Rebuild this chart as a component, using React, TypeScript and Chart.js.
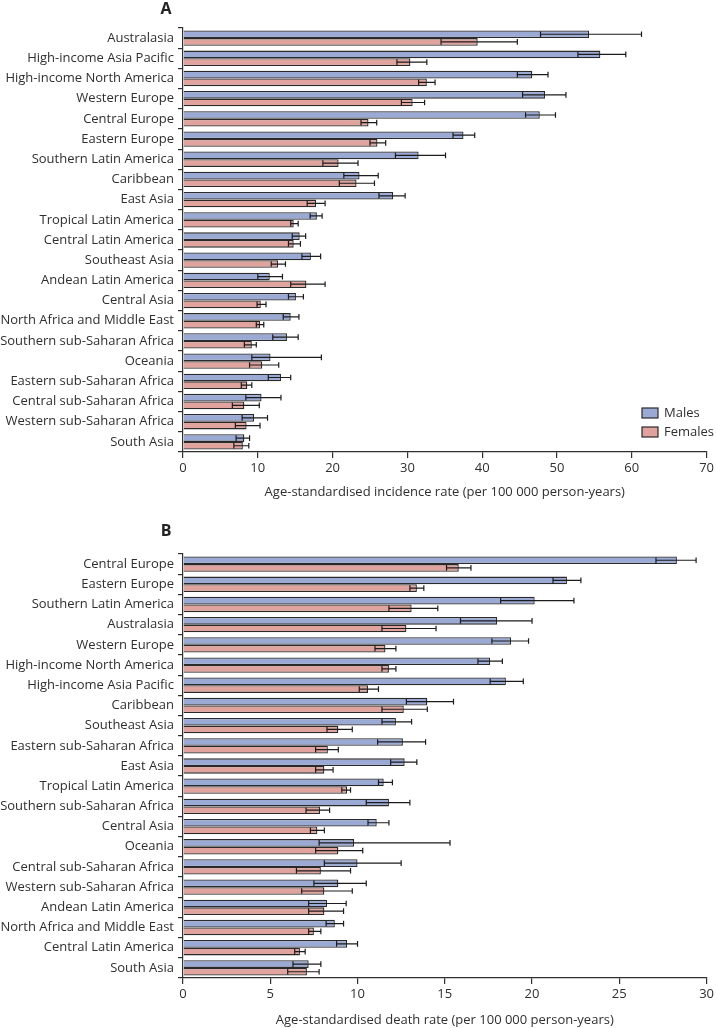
import React, { useEffect, useRef } from "react";
import { Chart, registerables } from "chart.js";
Chart.register(...registerables);

const regionsA = ["Australasia", "High-income Asia Pacific", "High-income North America", "Western Europe", "Central Europe", "Eastern Europe", "Southern Latin America", "Caribbean", "East Asia", "Tropical Latin America", "Central Latin America", "Southeast Asia", "Andean Latin America", "Central Asia", "North Africa and Middle East", "Southern sub-Saharan Africa", "Oceania", "Eastern sub-Saharan Africa", "Central sub-Saharan Africa", "Western sub-Saharan Africa", "South Asia"];
const malesA = [54.3, 55.8, 46.7, 48.4, 47.7, 37.5, 31.5, 23.6, 28.1, 17.9, 15.6, 17.1, 11.6, 15.1, 14.4, 13.9, 11.7, 13.1, 10.5, 9.5, 8.2];
const malesALow = [47.8, 52.8, 44.7, 45.4, 45.8, 36.1, 28.4, 21.5, 26.2, 17.0, 14.6, 15.9, 10.0, 14.1, 13.4, 12.0, 9.2, 11.4, 8.4, 7.9, 7.1];
const malesAHigh = [61.3, 59.2, 48.8, 51.2, 49.8, 39.0, 35.1, 26.1, 29.7, 18.6, 16.4, 18.4, 13.3, 16.1, 15.5, 15.4, 18.5, 14.4, 13.1, 11.3, 8.9];
const femalesA = [39.4, 30.4, 32.6, 30.7, 24.8, 26.0, 20.8, 23.2, 17.8, 14.8, 14.8, 12.7, 16.5, 10.4, 10.3, 9.2, 10.6, 8.6, 8.2, 8.5, 8.0];
const femalesALow = [34.5, 28.6, 31.5, 29.2, 23.8, 25.0, 18.7, 20.9, 16.6, 14.4, 14.1, 11.8, 14.4, 9.9, 9.8, 8.2, 8.9, 7.8, 6.6, 7.0, 6.8];
const femalesAHigh = [44.7, 32.6, 33.7, 32.3, 25.9, 27.1, 23.4, 25.6, 19.0, 15.4, 15.7, 13.7, 19.0, 11.1, 10.8, 9.8, 12.8, 9.2, 10.2, 10.3, 8.8];

const regionsB = ["Central Europe", "Eastern Europe", "Southern Latin America", "Australasia", "Western Europe", "High-income North America", "High-income Asia Pacific", "Caribbean", "Southeast Asia", "Eastern sub-Saharan Africa", "East Asia", "Tropical Latin America", "Southern sub-Saharan Africa", "Central Asia", "Oceania", "Central sub-Saharan Africa", "Western sub-Saharan Africa", "Andean Latin America", "North Africa and Middle East", "Central Latin America", "South Asia"];
const malesB = [28.3, 22.0, 20.15, 18.0, 18.8, 17.6, 18.5, 14.0, 12.2, 12.6, 12.7, 11.5, 11.8, 11.1, 9.8, 10.0, 8.9, 8.25, 8.7, 9.4, 7.2];
const malesBLow = [27.1, 21.2, 18.2, 15.9, 17.7, 16.9, 17.6, 12.8, 11.4, 11.15, 11.9, 11.2, 10.5, 10.6, 7.8, 8.1, 7.5, 7.2, 8.2, 8.8, 6.3];
const malesBHigh = [29.4, 22.8, 22.4, 20.0, 19.8, 18.3, 19.5, 15.5, 13.1, 13.9, 13.4, 12.0, 13.0, 11.8, 15.3, 12.5, 10.5, 9.35, 9.2, 10.0, 7.9];
const femalesB = [15.8, 13.4, 13.1, 12.8, 11.6, 11.8, 10.6, 12.65, 8.9, 8.3, 8.1, 9.4, 7.85, 7.7, 8.9, 7.9, 8.1, 8.1, 7.5, 6.7, 7.1];
const femalesBLow = [15.1, 13.0, 11.8, 11.4, 11.0, 11.4, 10.1, 11.4, 8.25, 7.6, 7.6, 9.1, 7.05, 7.3, 7.6, 6.5, 6.8, 7.2, 7.2, 6.4, 6.0];
const femalesBHigh = [16.5, 13.8, 14.6, 14.5, 12.2, 12.2, 11.2, 14.0, 9.7, 8.9, 8.6, 9.6, 8.4, 8.1, 10.3, 9.6, 9.7, 9.2, 7.9, 7.0, 7.8];

const FONT = "'Open Sans', 'Noto Sans', sans-serif";
const MALE_COLOR = "#9ba9d5";
const FEMALE_COLOR = "#e0a39e";
const EDGE = "#2a2a2a";
const TEXT = "#2f2f2f";

const errorBarPlugin = {
  id: "errorBars",
  afterDatasetsDraw(chart: any) {
    const ctx = chart.ctx;
    const xs = chart.scales.x;
    chart.data.datasets.forEach((ds: any, di: number) => {
      const meta = chart.getDatasetMeta(di);
      meta.data.forEach((el: any, i: number) => {
        const x1 = xs.getPixelForValue(ds.errLow[i]);
        const x2 = xs.getPixelForValue(ds.errHigh[i]);
        const y = el.y;
        const hh = el.height / 2 - 1;
        ctx.save();
        ctx.strokeStyle = "#1c1c1c";
        ctx.lineWidth = 1.2;
        ctx.beginPath();
        ctx.moveTo(x1, y);
        ctx.lineTo(x2, y);
        ctx.moveTo(x1, y - hh);
        ctx.lineTo(x1, y + hh);
        ctx.moveTo(x2, y - hh);
        ctx.lineTo(x2, y + hh);
        ctx.stroke();
        ctx.restore();
      });
    });
  },
};

const decorPlugin = {
  id: "decor",
  afterDraw(chart: any, _args: any, opts: any) {
    const ctx = chart.ctx;
    ctx.save();
    ctx.fillStyle = "#222";
    ctx.font = `bold 16px ${FONT}`;
    ctx.textAlign = "center";
    ctx.textBaseline = "middle";
    ctx.fillText(opts.panel, opts.panelX, opts.panelY);
    if (opts.legend) {
      const lg = opts.legend;
      chart.data.datasets.forEach((ds: any, i: number) => {
        const y = lg.y + i * lg.gap;
        ctx.fillStyle = ds.backgroundColor;
        ctx.fillRect(lg.x, y - 5, 16, 10);
        ctx.strokeStyle = EDGE;
        ctx.lineWidth = 1.2;
        ctx.strokeRect(lg.x, y - 5, 16, 10);
        ctx.fillStyle = TEXT;
        ctx.font = `13px ${FONT}`;
        ctx.textAlign = "left";
        ctx.fillText(ds.label, lg.x + 22, y);
      });
    }
    ctx.restore();
  },
};

function makeConfig(p: any) {
  return {
    type: "bar",
    data: {
      labels: p.labels,
      datasets: [
        { label: "Males", data: p.males, errLow: p.malesLow, errHigh: p.malesHigh, backgroundColor: MALE_COLOR, borderColor: EDGE, borderWidth: 1.3, categoryPercentage: 0.76, barPercentage: 1 },
        { label: "Females", data: p.females, errLow: p.femalesLow, errHigh: p.femalesHigh, backgroundColor: FEMALE_COLOR, borderColor: EDGE, borderWidth: 1.3, categoryPercentage: 0.76, barPercentage: 1 },
      ],
    },
    options: {
      indexAxis: "y",
      responsive: false,
      animation: false,
      layout: { padding: { top: p.top, left: 0, right: 8, bottom: 0 } },
      plugins: {
        legend: { display: false },
        tooltip: { enabled: false },
        decor: { panel: p.panel, panelX: 166, panelY: p.panelY, legend: p.legend },
      },
      scales: {
        y: {
          afterFit(scale: any) { scale.width = 183; },
          grid: { drawOnChartArea: false, tickLength: 5, color: TEXT, lineWidth: 1.2, offset: true },
          border: { color: TEXT, width: 1.2 },
          ticks: { color: TEXT, font: { family: FONT, size: 13 }, padding: 4, autoSkip: false },
        },
        x: {
          min: 0,
          max: p.max,
          afterFit(scale: any) { scale.height = p.xHeight; },
          grid: { drawOnChartArea: false, tickLength: 6, color: TEXT, lineWidth: 1.2 },
          border: { color: TEXT, width: 1.2 },
          ticks: { stepSize: p.step, color: TEXT, font: { family: FONT, size: 13 }, padding: 2, maxRotation: 0 },
          title: { display: true, text: p.title, color: TEXT, font: { family: FONT, size: 13 }, padding: { top: 0, bottom: p.titlePad } },
        },
      },
    },
    plugins: [errorBarPlugin, decorPlugin],
  };
}

function Panel(props: { cfg: any; width: number; height: number; top: number }) {
  const ref = useRef<HTMLCanvasElement>(null);
  useEffect(() => {
    const chart = new Chart(ref.current as HTMLCanvasElement, props.cfg);
    return () => chart.destroy();
  }, []);
  return (
    <canvas
      ref={ref}
      width={props.width}
      height={props.height}
      style={{ position: "absolute", left: 0, top: props.top, width: props.width, height: props.height, display: "block" }}
    />
  );
}

export default function App() {
  const cfgA = makeConfig({
    labels: regionsA, males: malesA, malesLow: malesALow, malesHigh: malesAHigh,
    females: femalesA, femalesLow: femalesALow, femalesHigh: femalesAHigh,
    max: 70, step: 10, top: 28, xHeight: 63, titlePad: 15,
    title: "Age-standardised incidence rate (per 100 000 person-years)",
    panel: "A", panelY: 9, legend: { x: 642, y: 413, gap: 19 },
  });
  const cfgB = makeConfig({
    labels: regionsB, males: malesB, malesLow: malesBLow, malesHigh: malesBHigh,
    females: femalesB, femalesLow: femalesBLow, femalesHigh: femalesBHigh,
    max: 30, step: 5, top: 39, xHeight: 50, titlePad: 0,
    title: "Age-standardised death rate (per 100 000 person-years)",
    panel: "B", panelY: 16, legend: null,
  });
  return (
    <div style={{ position: "absolute", left: 0, top: 0, width: 716, height: 1028, background: "#fff" }}>
      <Panel cfg={cfgA} width={716} height={515} top={0} />
      <Panel cfg={cfgB} width={716} height={513} top={515} />
    </div>
  );
}
